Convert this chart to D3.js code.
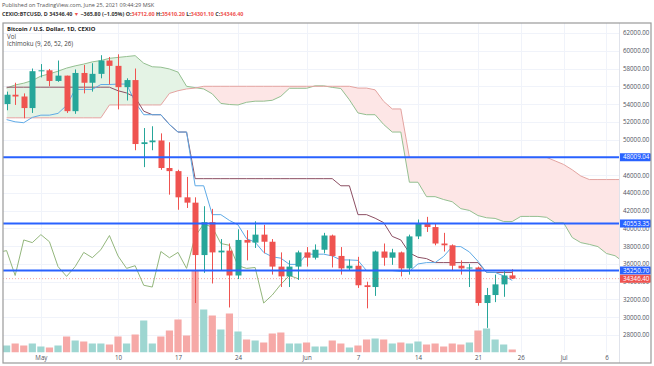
<!DOCTYPE html>
<html>
<head>
<meta charset="utf-8">
<script src="https://cdn.jsdelivr.net/npm/d3@7"></script>
<style>
  body { margin: 0; background: #fff; }
  svg { display: block; font-family: "Open Sans", sans-serif; }
</style>
</head>
<body>
<svg id="chart" width="654" height="366"></svg>
<script>
// daily bars, first bar is 2021-04-27
var startDay = "2021-04-27";

var opens  = [54000, 55050, 54850, 53550, 57700, 57800, 56600, 57200, 53200, 57500, 56400, 57400, 58900, 58300, 55900, 56700, 49500, 49700, 49900, 46800, 46450, 43500, 42900, 37000, 40700, 37300, 37500, 34700, 38700, 38400, 39300, 38500, 35700, 34600, 35700, 37300, 36700, 37600, 39200, 36900, 35500, 35800, 33600, 33400, 37400, 36700, 37300, 35500, 39100, 40500, 40150, 38300, 38100, 35800, 35500, 35600, 31600, 32500, 33700, 34712.6];
var highs  = [55400, 56400, 55200, 58000, 58500, 57950, 58900, 57200, 57900, 58400, 58600, 59500, 59300, 59600, 56900, 58000, 51300, 51500, 50700, 49700, 46600, 45800, 43500, 42500, 42200, 38800, 38300, 39900, 39800, 40800, 40400, 38800, 37300, 36400, 37500, 37900, 38200, 39500, 39300, 37900, 36500, 36800, 34000, 37500, 38300, 37700, 37400, 39300, 41000, 41300, 40500, 39500, 38200, 36400, 36000, 35700, 33300, 34800, 35200, 35410.2];
var lows   = [53300, 53900, 52400, 53000, 57000, 56000, 56500, 53000, 52900, 55200, 55400, 56900, 56200, 53400, 54400, 48800, 46900, 48800, 46600, 43800, 42100, 42300, 31600, 35000, 33800, 35300, 31100, 34300, 36400, 37800, 37200, 34800, 33400, 33400, 34200, 35700, 36500, 37200, 35600, 34800, 35300, 33300, 31000, 32400, 35800, 35900, 34600, 34800, 38800, 39600, 38100, 37400, 35200, 34800, 33400, 31300, 28800, 31700, 32300, 34301.1];
var closes = [55050, 54850, 53550, 57700, 57800, 56600, 57200, 53200, 57500, 56400, 57400, 58900, 58300, 55900, 56700, 49500, 49700, 49900, 46800, 46450, 43500, 42900, 37000, 40700, 37300, 37500, 34700, 38700, 38400, 39300, 38500, 35700, 34600, 35700, 37300, 36700, 37600, 39200, 36900, 35500, 35800, 33600, 33400, 37400, 36700, 37300, 35500, 39100, 40500, 40150, 38300, 38100, 35800, 35500, 35600, 31600, 32500, 33700, 34700, 34346.4];
var volumes = [700, 900, 700, 900, 600, 500, 700, 1600, 1200, 1100, 900, 900, 800, 1600, 900, 1800, 3200, 900, 1600, 2200, 3300, 1700, 8200, 4300, 3700, 2300, 3900, 2100, 1300, 1200, 1000, 1900, 2000, 900, 900, 1000, 600, 600, 1200, 900, 500, 700, 1300, 1400, 1300, 900, 1000, 900, 1100, 800, 900, 600, 900, 800, 1000, 2200, 2400, 1300, 800, 300];

// ichimoku lines, one value per bar
var tenkan = [52250, 52000, 51900, 52500, 52750, 52750, 52950, 53850, 55650, 55650, 55650, 56200, 56200, 56250, 56250, 54200, 52800, 52800, 52800, 51700, 50850, 50850, 44800, 44800, 41550, 41550, 40900, 40400, 38850, 38450, 37300, 36800, 36650, 35950, 35950, 37100, 37100, 37100, 36900, 36450, 36450, 36400, 35250, 35250, 35250, 35250, 35150, 35150, 36000, 36150, 36150, 36850, 37950, 37950, 37350, 36300, 35050, 35050, 34650, 34150];
var kijun = [55900, 55900, 55900, 55900, 55900, 55900, 55900, 55900, 55900, 55900, 55900, 55900, 55900, 55500, 55250, 54750, 53200, 52800, 52800, 51700, 50850, 50850, 45600, 45600, 45600, 45600, 45600, 45600, 45600, 45600, 45600, 45600, 45600, 45600, 45600, 45600, 45600, 45600, 45600, 44800, 44800, 41550, 41550, 41150, 40650, 39100, 38700, 37250, 36750, 36600, 36150, 36150, 36150, 36150, 36150, 36150, 35050, 35050, 35050, 35050];
// leading spans run 13 bars past the last candle
var spanA = [55800, 56150, 56350, 56650, 57150, 57400, 57700, 58050, 58300, 58500, 58750, 58900, 59150, 59250, 59350, 59450, 58600, 58200, 58150, 57950, 57600, 56000, 55850, 55700, 55150, 54075, 53950, 53900, 54200, 54325, 54325, 54425, 54875, 55775, 55775, 55775, 56050, 56050, 55875, 55750, 54475, 53000, 52800, 52800, 51700, 50850, 50850, 45200, 45200, 43575, 43575, 43250, 43000, 42225, 42025, 41450, 41200, 41125, 40775, 40775, 41350, 41350, 41350, 41250, 40625, 40625, 38975, 38400, 38200, 37950, 37175, 36925, 36200];
var spanB = [52450, 52450, 52450, 52450, 52450, 52450, 52450, 52450, 52450, 52450, 52450, 52450, 53900, 53900, 53900, 53900, 53900, 53900, 53900, 55200, 55500, 55700, 55800, 56000, 56000, 56000, 56000, 56000, 56000, 56000, 56000, 56000, 56000, 56000, 56000, 56000, 56000, 56000, 56000, 56000, 56000, 55800, 55800, 55600, 54300, 53450, 53450, 48000, 48000, 48000, 48000, 48000, 48000, 48000, 48000, 48000, 48000, 48000, 48000, 48000, 48000, 48000, 48000, 48000, 47600, 47200, 46600, 45900, 45500, 45500, 45500, 45500, 45500];
var laggingShift = 25;

var levels = [48009.04, 40553.35, 35250.70];
var lastPrice = 34346.40;
var priceTicks = d3.range(28000, 62001, 2000);
var timeTicks = ["2021-05-01", "2021-05-10", "2021-05-17", "2021-05-24", "2021-06-01", "2021-06-07", "2021-06-14", "2021-06-21", "2021-06-26", "2021-07-01", "2021-07-06"];
var timeLabels = ["May", "10", "17", "24", "Jun", "7", "14", "21", "26", "Jul", "6"];

var up = "#26a69a", down = "#ef5350";
var plot = {left: 3, right: 619, top: 23, bottom: 352.5};

var parse = d3.utcParse("%Y-%m-%d");
var day0 = parse(startDay);
var x = d3.scaleUtc()
  .domain([day0, d3.utcDay.offset(day0, 72)])
  .range([6.6, 623.64]);
var y = d3.scaleLinear().domain([28000, 62000]).range([335, 33]);
var yVol = d3.scaleLinear().domain([0, 8200]).range([plot.bottom, 270.5]);
function xi(i) { return x(d3.utcDay.offset(day0, i)); }

var svg = d3.select("#chart");
var defs = svg.append("defs");
defs.append("clipPath").attr("id", "plotclip").append("rect")
  .attr("x", plot.left).attr("y", plot.top)
  .attr("width", plot.right - plot.left).attr("height", plot.bottom - plot.top);

// grid
var grid = svg.append("g").attr("stroke", "#f0f3fa").attr("stroke-width", 1);
grid.selectAll(".gy").data(priceTicks).enter().append("line")
  .attr("x1", plot.left).attr("x2", plot.right)
  .attr("y1", d => Math.round(y(d)) + 0.5).attr("y2", d => Math.round(y(d)) + 0.5);
grid.selectAll(".gx").data(timeTicks).enter().append("line")
  .attr("x1", d => Math.round(x(parse(d))) + 0.5).attr("x2", d => Math.round(x(parse(d))) + 0.5)
  .attr("y1", plot.top).attr("y2", plot.bottom);

var g = svg.append("g").attr("clip-path", "url(#plotclip)");

// volume
var bars = d3.range(opens.length);
g.append("g").selectAll("rect").data(bars).enter().append("rect")
  .attr("x", i => xi(i) - 3.6)
  .attr("width", 7.2)
  .attr("y", i => yVol(volumes[i]))
  .attr("height", i => plot.bottom - yVol(volumes[i]))
  .attr("fill", i => closes[i] >= opens[i] ? "#9ed6d1" : "#f6a9a7");

// cloud
var cloud = spanA.map((a, i) => ({i: i, a: a, b: spanB[i]}));
defs.append("clipPath").attr("id", "aboveB").append("path")
  .attr("d", d3.area().x(d => xi(d.i)).y0(d => y(d.b)).y1(plot.top)(cloud));
defs.append("clipPath").attr("id", "belowB").append("path")
  .attr("d", d3.area().x(d => xi(d.i)).y0(d => y(d.b)).y1(plot.bottom)(cloud));
var between = d3.area().x(d => xi(d.i)).y0(d => y(d.a)).y1(d => y(d.b));
g.append("g").attr("clip-path", "url(#aboveB)").append("path")
  .attr("d", between(cloud)).attr("fill", "#e4f3e5");
g.append("g").attr("clip-path", "url(#belowB)").append("path")
  .attr("d", between(cloud)).attr("fill", "#fde6e6");

function drawLine(vals, shift, color) {
  var line = d3.line().x((d, i) => xi(i + shift)).y(d => y(d));
  g.append("path").attr("d", line(vals))
    .attr("fill", "none").attr("stroke", color).attr("stroke-width", 1);
}
drawLine(spanA, 0, "#94bf90");
drawLine(spanB, 0, "#e3a3a0");
drawLine(closes, -laggingShift, "#93b67c");
drawLine(kijun, 0, "#8c4f63");
drawLine(tenkan, 0, "#5faae6");

// candles
var candles = g.append("g").selectAll("g").data(bars).enter().append("g")
  .attr("fill", i => closes[i] >= opens[i] ? up : down)
  .attr("stroke", i => closes[i] >= opens[i] ? up : down);
candles.append("line")
  .attr("x1", i => Math.round(xi(i)) + 0.5).attr("x2", i => Math.round(xi(i)) + 0.5)
  .attr("y1", i => y(highs[i])).attr("y2", i => y(lows[i]));
candles.append("rect")
  .attr("stroke", "none")
  .attr("x", i => Math.round(xi(i)) - 2.5)
  .attr("width", 6)
  .attr("y", i => y(Math.max(opens[i], closes[i])))
  .attr("height", i => Math.max(1, Math.abs(y(opens[i]) - y(closes[i]))));

// horizontal levels and last price
g.append("line")
  .attr("x1", plot.left).attr("x2", plot.right)
  .attr("y1", y(lastPrice)).attr("y2", y(lastPrice))
  .attr("stroke", down).attr("stroke-opacity", 0.5).attr("stroke-dasharray", "1,2");
g.selectAll(".lvl").data(levels).enter().append("line")
  .attr("x1", plot.left).attr("x2", plot.right)
  .attr("y1", d => y(d)).attr("y2", d => y(d))
  .attr("stroke", "#2962ff").attr("stroke-width", 2);

// axes
var yAxis = svg.append("g")
  .attr("transform", `translate(${plot.right},0)`)
  .call(d3.axisRight(y).tickValues(priceTicks).tickFormat(d3.format(".2f")).tickSize(0).tickPadding(4));
yAxis.select(".domain").remove();
yAxis.selectAll("text").attr("font-size", 6.2).attr("fill", "#50535e").attr("font-family", "Open Sans");

var xAxis = svg.append("g")
  .attr("transform", `translate(0,${plot.bottom})`)
  .call(d3.axisBottom(x).tickValues(timeTicks.map(parse)).tickFormat((d, i) => timeLabels[i]).tickSize(0).tickPadding(3));
xAxis.select(".domain").remove();
xAxis.selectAll("text").attr("font-size", 6.2).attr("fill", "#50535e").attr("font-family", "Open Sans");

function priceLabel(v, color) {
  var t = svg.append("g").attr("transform", `translate(${plot.right},${y(v)})`);
  t.append("rect").attr("x", 0).attr("y", -4).attr("width", 32).attr("height", 8).attr("rx", 1).attr("fill", color);
  t.append("text").attr("x", 4).attr("dy", "0.35em").attr("font-size", 6.2).attr("fill", "#fff")
    .text(d3.format(".2f")(v));
}
levels.forEach(v => priceLabel(v, "#2962ff"));
priceLabel(lastPrice, down);

// frame
svg.append("line").attr("x1", plot.right + 0.5).attr("x2", plot.right + 0.5)
  .attr("y1", plot.top).attr("y2", 363).attr("stroke", "#e0e3eb");
svg.append("rect").attr("x", 3).attr("y", plot.top).attr("width", 648).attr("height", 340)
  .attr("fill", "none").attr("stroke", "#9a9a9a").attr("stroke-width", 1.2);

// header
var head = svg.append("g").attr("font-family", "Open Sans");
head.append("text").attr("x", 2).attr("y", 7).attr("font-size", 5.5).attr("fill", "#555")
  .text("Published on TradingView.com, June 25, 2021 09:44:29 MSK");
var l2 = head.append("text").attr("x", 2).attr("y", 16).attr("font-size", 5.4).attr("font-weight", "bold").attr("fill", "#333");
l2.append("tspan").text("CEXIO:BTCUSD, D 34346.40 ");
l2.append("tspan").attr("fill", down).text("\u25BC");
l2.append("tspan").text(" \u2212365.80 (\u22121.05%) ");
[["O:", "34712.60"], ["H:", "35410.20"], ["L:", "34301.10"], ["C:", "34346.40"]].forEach(p => {
  l2.append("tspan").text(p[0]);
  l2.append("tspan").attr("fill", down).text(p[1] + " ");
});
head.append("text").attr("x", 7).attr("y", 31).attr("font-size", 5.9).attr("font-weight", "bold").attr("fill", "#222")
  .text("Bitcoin / U.S. Dollar, 1D, CEXIO");
head.append("text").attr("x", 7).attr("y", 38.5).attr("font-size", 6.2).attr("fill", "#444").text("Vol");
head.append("text").attr("x", 7).attr("y", 46).attr("font-size", 6.2).attr("fill", "#444").text("Ichimoku (9, 26, 52, 26)");
</script>
</body>
</html>
